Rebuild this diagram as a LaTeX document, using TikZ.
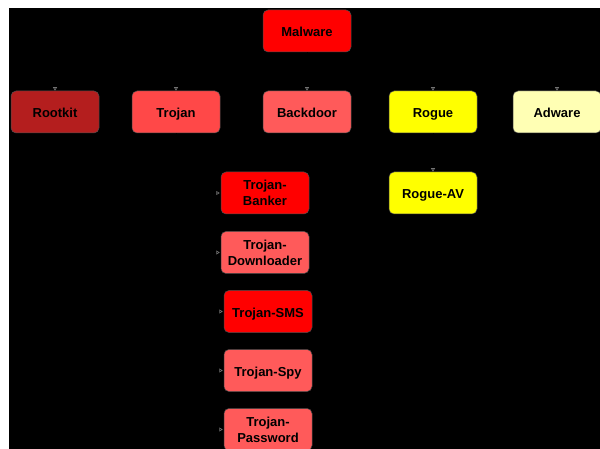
\documentclass[tikz,border=0pt]{standalone}
\usepackage{fontspec}
\setmainfont{Liberation Sans}
\usetikzlibrary{arrows.meta}
\definecolor{cRed}{HTML}{FF0000}
\definecolor{cDark}{HTML}{B41E1E}
\definecolor{cLight}{HTML}{FF4848}
\definecolor{cPale}{HTML}{FF5A5A}
\definecolor{cYel}{HTML}{FFFF00}
\definecolor{cCream}{HTML}{FFFFB4}
\tikzset{
  box/.style={draw=black!70, line width=0.5pt, rounded corners=5pt, minimum width=88pt, minimum height=42pt, inner sep=1pt, align=center, font=\fontsize{13}{16}\selectfont\bfseries, text=black},
  one/.style={text height=12.5pt, text depth=1.5pt},
  link/.style={draw=black, line width=0.7pt, -{Triangle[open, length=3.5pt, width=4pt, color=black!55]}}
}
\begin{document}
\begin{tikzpicture}[x=1pt,y=-1pt]
\useasboundingbox (0,0) rectangle (600,449);
\fill[white] (0,0) rectangle (600,449);
\fill[black] (9,8) rectangle (600,449);
\node[box, one, fill=cRed] (mal) at (307,31) {Malware};
\node[box, one, fill=cDark] (root) at (55,112) {Rootkit};
\node[box, one, fill=cLight] (troj) at (176,112) {Trojan};
\node[box, one, fill=cPale] (back) at (307,112) {Backdoor};
\node[box, one, fill=cYel] (rogue) at (433,112) {Rogue};
\node[box, one, fill=cCream] (adw) at (557,112) {Adware};
\node[box, fill=cRed] (bank) at (265,193) {Trojan-\\Banker};
\node[box, one, fill=cYel] (rav) at (433,193) {Rogue-AV};
\node[box, fill=cPale] (down) at (265,252.5) {Trojan-\\Downloader};
\node[box, one, fill=cRed] (sms) at (268,311.5) {Trojan-SMS};
\node[box, one, fill=cPale] (spy) at (268,370.5) {Trojan-Spy};
\node[box, fill=cPale] (pass) at (268,429.5) {Trojan-\\Password};
\foreach \c in {root,troj,back,rogue,adw}
  \draw[link] (mal.south) -- ++(0,19) -| (\c.north);
\draw[link] (rogue.south) -- (rav.north);
\foreach \c in {bank,down,sms,spy,pass}
  \draw[link] (troj.south) |- ([xshift=-1pt]\c.west);
\end{tikzpicture}
\end{document}
